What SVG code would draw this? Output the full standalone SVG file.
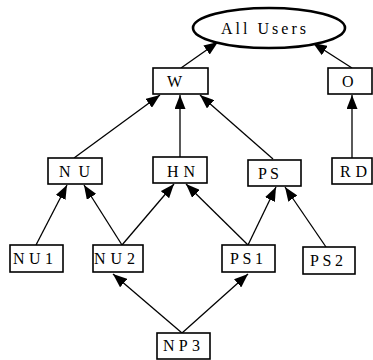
<svg xmlns="http://www.w3.org/2000/svg" width="373" height="360" viewBox="0 0 373 360">
<defs>
<style>
.box{fill:#fff;stroke:#000;stroke-width:1.6}
.ell{fill:#fff;stroke:#000;stroke-width:2.6}
.lbl{font-family:"Liberation Serif","Times New Roman",serif;font-size:16px;fill:#000}
.edge{stroke:#000;stroke-width:1.3;fill:none;marker-end:url(#ah)}
</style>
<marker id="ah" viewBox="0 0 14 11" refX="14" refY="5.5" markerWidth="14" markerHeight="11" markerUnits="userSpaceOnUse" orient="auto">
<path d="M0,0 L14,5.5 L0,11 z" fill="#000"/>
</marker>
</defs>
<g id="connectors">
<line class="edge" x1="181" y1="68" x2="218" y2="42"/>
<line class="edge" x1="352" y1="68" x2="313" y2="43"/>
<line class="edge" x1="74" y1="158" x2="160" y2="95"/>
<line class="edge" x1="180" y1="157" x2="180" y2="95"/>
<line class="edge" x1="273" y1="159" x2="200" y2="95"/>
<line class="edge" x1="352" y1="158" x2="352" y2="95"/>
<line class="edge" x1="36" y1="245" x2="67" y2="185"/>
<line class="edge" x1="122" y1="245" x2="84" y2="185"/>
<line class="edge" x1="122" y1="245" x2="174" y2="184"/>
<line class="edge" x1="248" y1="245" x2="186" y2="184"/>
<line class="edge" x1="248" y1="245" x2="276" y2="187"/>
<line class="edge" x1="326" y1="247" x2="285" y2="187"/>
<line class="edge" x1="182" y1="333" x2="113" y2="274"/>
<line class="edge" x1="182" y1="333" x2="248" y2="274"/>
</g>
<g id="all-users">
<ellipse class="ell" cx="269" cy="28" rx="76" ry="20"/>
<text class="lbl" x="221" y="34" textLength="85" lengthAdjust="spacing">All Users</text>
</g>
<g id="W">
<rect class="box" x="153" y="68" width="55" height="26"/>
<text class="lbl" x="167" y="87">W</text>
</g>
<g id="O">
<rect class="box" x="328" y="68" width="44" height="26"/>
<text class="lbl" x="342" y="87">O</text>
</g>
<g id="NU">
<rect class="box" x="48" y="158" width="54" height="26"/>
<text class="lbl" x="59" y="177" textLength="31" lengthAdjust="spacing">NU</text>
</g>
<g id="HN">
<rect class="box" x="153" y="157" width="54" height="26"/>
<text class="lbl" x="167" y="177" textLength="28" lengthAdjust="spacing">HN</text>
</g>
<g id="PS">
<rect class="box" x="248" y="160" width="53" height="26"/>
<text class="lbl" x="258" y="179" textLength="21" lengthAdjust="spacing">PS</text>
</g>
<g id="RD">
<rect class="box" x="332" y="158" width="40" height="26"/>
<text class="lbl" x="340" y="177" textLength="27" lengthAdjust="spacing">RD</text>
</g>
<g id="NU1">
<rect class="box" x="10" y="245" width="53" height="27"/>
<text class="lbl" x="13" y="264" textLength="40" lengthAdjust="spacing">NU1</text>
</g>
<g id="NU2">
<rect class="box" x="93" y="245" width="50" height="27"/>
<text class="lbl" x="94" y="264" textLength="41" lengthAdjust="spacing">NU2</text>
</g>
<g id="PS1">
<rect class="box" x="222" y="245" width="53" height="27"/>
<text class="lbl" x="230" y="264" textLength="33" lengthAdjust="spacing">PS1</text>
</g>
<g id="PS2">
<rect class="box" x="303" y="247" width="52" height="27"/>
<text class="lbl" x="310" y="266" textLength="33" lengthAdjust="spacing">PS2</text>
</g>
<g id="NP3">
<rect class="box" x="157" y="333" width="53" height="26"/>
<text class="lbl" x="163" y="351" textLength="37" lengthAdjust="spacing">NP3</text>
</g>
</svg>
